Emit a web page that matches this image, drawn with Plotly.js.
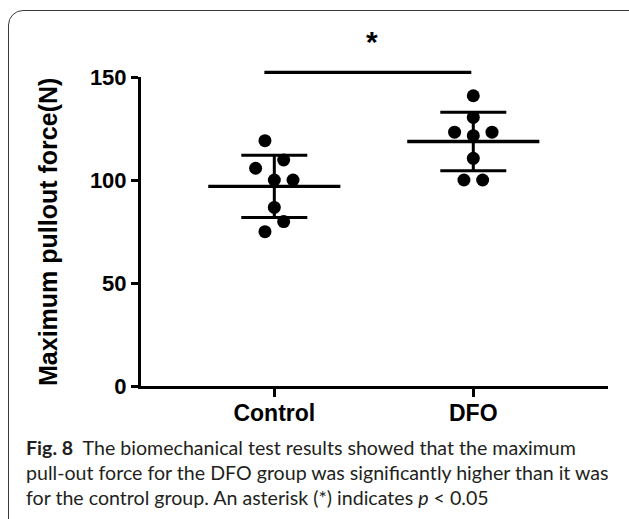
<!DOCTYPE html>
<html>
<head>
<meta charset="utf-8">
<script src="https://cdn.plot.ly/plotly-3.0.1.min.js"></script>
<style>
  html, body { margin: 0; padding: 0; background: #ffffff; }
  #wrap { position: relative; width: 629px; height: 519px; overflow: hidden; }
  #frame { position: absolute; left: 8px; top: 10px; width: 660px; height: 560px;
           border: 1.4px solid #3a3a3a; border-radius: 15px; box-sizing: border-box; }
  #chart { position: absolute; left: 0; top: 0; width: 629px; height: 519px; }
</style>
</head>
<body>
<div id="wrap">
  <div id="frame"></div>
  <div id="chart"></div>
</div>
<script>
// ---- data ----
const categories = ['Control', 'DFO'];
const controlValues = [119.1, 109.7, 105.7, 100.0, 100.0, 86.7, 79.8, 74.9];
const dfoValues = [140.9, 130.4, 123.2, 121.5, 123.2, 110.5, 100.0, 100.0];
const groupMeans = [96.9, 118.7];
const groupSDs = [15.1, 14.2];
const yTickVals = [0, 50, 100, 150];
const yTickText = ['0', '50', '100', '150'];
// horizontal placement steps of the dots (dot-plot spreading, not values)
const controlSpread = [-1, 1, -2, 0, 2, 0, 1, -1];
const dfoSpread = [0, 0, -2, 0, 2, 0, -1, 1];

const groupValues = [controlValues, dfoValues];
const groupSpread = [controlSpread, dfoSpread];
const STEP = 0.047;          // category units per spread step
const MEAN_HALF = 0.332;     // half-length of the mean bar (category units)

const traces = [];
// mean bars + SD error bars
traces.push({
  type: 'scatter',
  mode: 'markers',
  x: categories.map((c, i) => i),
  y: groupMeans,
  marker: { size: 1, color: '#000' },
  error_x: { type: 'constant', value: MEAN_HALF, width: 0, thickness: 3.3, color: '#000' },
  error_y: { type: 'data', array: groupSDs, symmetric: true, width: 33, thickness: 3, color: '#000' },
  hoverinfo: 'skip',
  showlegend: false
});
// individual points
groupValues.forEach((vals, i) => {
  traces.push({
    type: 'scatter',
    mode: 'markers',
    name: categories[i],
    x: vals.map((v, k) => i + groupSpread[i][k] * STEP),
    y: vals,
    marker: { size: 13, color: '#000' },
    cliponaxis: false,
    showlegend: false
  });
});

const PL = 141, PT = 77, PR = 608, PB = 386;
const pw = PR - PL, ph = PB - PT;
const px = v => (v - PL) / pw;   // pixel -> paper x
const py = v => (PB - v) / ph;   // pixel -> paper y

const capFont = { family: 'Lato, "Open Sans", sans-serif', size: 19.6, color: '#231f20' };

const layout = {
  width: 629,
  height: 519,
  margin: { l: PL, r: 629 - PR, t: PT, b: 519 - PB, pad: 0 },
  paper_bgcolor: 'rgba(0,0,0,0)',
  plot_bgcolor: 'rgba(0,0,0,0)',
  showlegend: false,
  xaxis: {
    range: [-0.67, 1.677],
    tickvals: categories.map((c, i) => i),
    ticktext: categories,
    showgrid: false,
    zeroline: false,
    showline: true,
    linewidth: 3,
    linecolor: '#000',
    ticks: 'outside',
    ticklen: 8,
    tickwidth: 3,
    tickcolor: '#000',
    ticklabelstandoff: -4,
    tickfont: { family: '"Liberation Sans", Arial, sans-serif', size: 23, color: '#000', weight: 'bold' },
    fixedrange: true
  },
  yaxis: {
    range: [0, 150],
    tickvals: yTickVals,
    ticktext: yTickText,
    showgrid: false,
    zeroline: false,
    showline: true,
    linewidth: 3,
    linecolor: '#000',
    ticks: 'outside',
    ticklen: 7,
    tickwidth: 3,
    tickcolor: '#000',
    tickfont: { family: '"Liberation Sans", Arial, sans-serif', size: 22, color: '#000', weight: 'bold' },
    fixedrange: true
  },
  shapes: [
    {
      type: 'line', xref: 'x', yref: 'paper',
      x0: -0.05, x1: 0.99, y0: py(72.3), y1: py(72.3),
      line: { color: '#000', width: 3.3 }
    }
  ],
  annotations: [
    {
      text: '<b>*</b>', xref: 'x', yref: 'paper', x: 0.49, y: py(42),
      xanchor: 'center', yanchor: 'middle', showarrow: false,
      font: { family: '"Liberation Sans", Arial, sans-serif', size: 30, color: '#000' }
    },
    {
      text: '<b>Maximum pullout force(N)</b>', xref: 'paper', yref: 'paper',
      x: px(48), y: py(232), xanchor: 'center', yanchor: 'middle', textangle: -90,
      showarrow: false,
      font: { family: '"Liberation Sans", Arial, sans-serif', size: 25, color: '#000' }
    },
    {
      text: '<b>Fig. 8</b>  The biomechanical test results showed that the maximum',
      xref: 'paper', yref: 'paper', x: px(24), y: py(447), xanchor: 'left', yanchor: 'middle',
      showarrow: false, align: 'left', font: capFont
    },
    {
      text: 'pull-out force for the DFO group was significantly higher than it was',
      xref: 'paper', yref: 'paper', x: px(24), y: py(472), xanchor: 'left', yanchor: 'middle',
      showarrow: false, align: 'left', font: capFont
    },
    {
      text: 'for the control group. An asterisk (*) indicates <i>p</i> &lt; 0.05',
      xref: 'paper', yref: 'paper', x: px(24), y: py(497), xanchor: 'left', yanchor: 'middle',
      showarrow: false, align: 'left', font: capFont
    }
  ]
};

Plotly.newPlot('chart', traces, layout, { displayModeBar: false, staticPlot: true });
</script>
</body>
</html>
